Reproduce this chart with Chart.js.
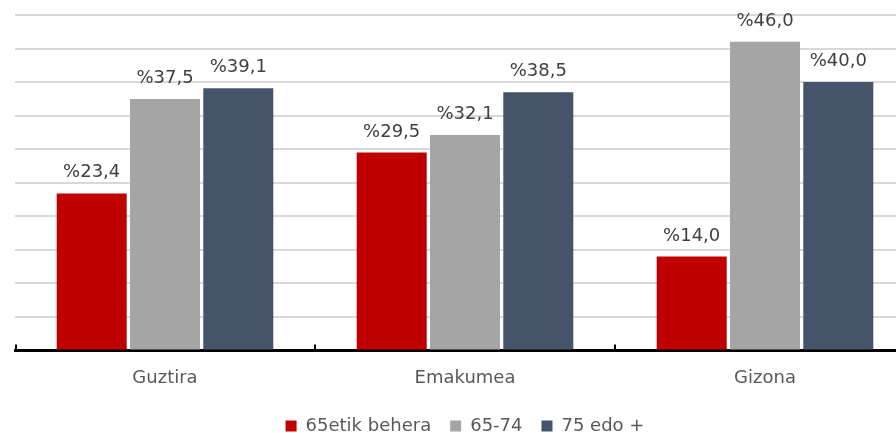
<!DOCTYPE html>
<html>
<head>
<meta charset="utf-8">
<script src="https://cdn.jsdelivr.net/npm/chart.js@4"></script>
<style>
  html, body { margin: 0; padding: 0; background: #fff; overflow: hidden; }
  #wrap { width: 896px; height: 433px; overflow: hidden; }
</style>
</head>
<body>
<div id="wrap"><canvas id="chart" width="915" height="433"></canvas></div>
<script>
// data
const categories = ["Guztira", "Emakumea", "Gizona"];
const seriesNames = ["65etik behera", "65-74", "75 edo +"];
const under65 = [23.4, 29.5, 14.0];
const age65to74 = [37.5, 32.1, 46.0];
const over75 = [39.1, 38.5, 40.0];
const seriesColors = ["#C00000", "#A5A5A5", "#44546A"];

const FONT = "'DejaVu Sans', Verdana, sans-serif";

// percent labels above bars, "%23,4" style
const valueLabels = {
    id: "valueLabels",
    afterDatasetsDraw(chart) {
        const ctx = chart.ctx;
        ctx.save();
        ctx.font = "18px " + FONT;
        ctx.fillStyle = "#404040";
        ctx.textAlign = "center";
        ctx.textBaseline = "alphabetic";
        chart.data.datasets.forEach((ds, i) => {
            chart.getDatasetMeta(i).data.forEach((bar, j) => {
                const txt = "%" + ds.data[j].toFixed(1).replace(".", ",");
                ctx.fillText(txt, bar.x, bar.y - 16);
            });
        });
        ctx.restore();
    }
};

// small upward tick marks at category boundaries
const boundaryTicks = {
    id: "boundaryTicks",
    afterDraw(chart) {
        const x = chart.scales.x;
        const ctx = chart.ctx;
        const step = (x.right - x.left) / categories.length;
        ctx.save();
        ctx.strokeStyle = "#000";
        ctx.lineWidth = 2;
        for (let i = 0; i <= categories.length; i++) {
            const px = x.left + i * step + (i === 0 ? 1 : 0);
            ctx.beginPath();
            ctx.moveTo(px, x.top);
            ctx.lineTo(px, x.top - 6);
            ctx.stroke();
        }
        ctx.restore();
    }
};

new Chart(document.getElementById("chart"), {
    type: "bar",
    data: {
        labels: categories,
        datasets: [
            { label: seriesNames[0], data: under65, backgroundColor: seriesColors[0] },
            { label: seriesNames[1], data: age65to74, backgroundColor: seriesColors[1] },
            { label: seriesNames[2], data: over75, backgroundColor: seriesColors[2] }
        ]
    },
    options: {
        responsive: false,
        animation: false,
        devicePixelRatio: 1,
        categoryPercentage: 0.733,
        barPercentage: 0.955,
        layout: { padding: { left: 15, right: 0, top: 15, bottom: -12 } },
        scales: {
            x: {
                grid: { display: false },
                border: { display: true, color: "#000", width: 3 },
                ticks: { color: "#595959", font: { family: FONT, size: 18, lineHeight: 1.75 }, padding: 4 }
            },
            y: {
                min: 0,
                max: 50,
                ticks: { display: false, stepSize: 5 },
                border: { display: false },
                grid: { color: "#D9D9D9", lineWidth: 2, drawTicks: false }
            }
        },
        plugins: {
            legend: {
                position: "bottom",
                labels: {
                    color: "#595959",
                    font: { family: FONT, size: 18, lineHeight: 1.0 },
                    boxWidth: 11,
                    boxHeight: 11,
                    padding: 19
                }
            },
            tooltip: { enabled: false }
        }
    },
    plugins: [valueLabels, boundaryTicks]
});
</script>
</body>
</html>
